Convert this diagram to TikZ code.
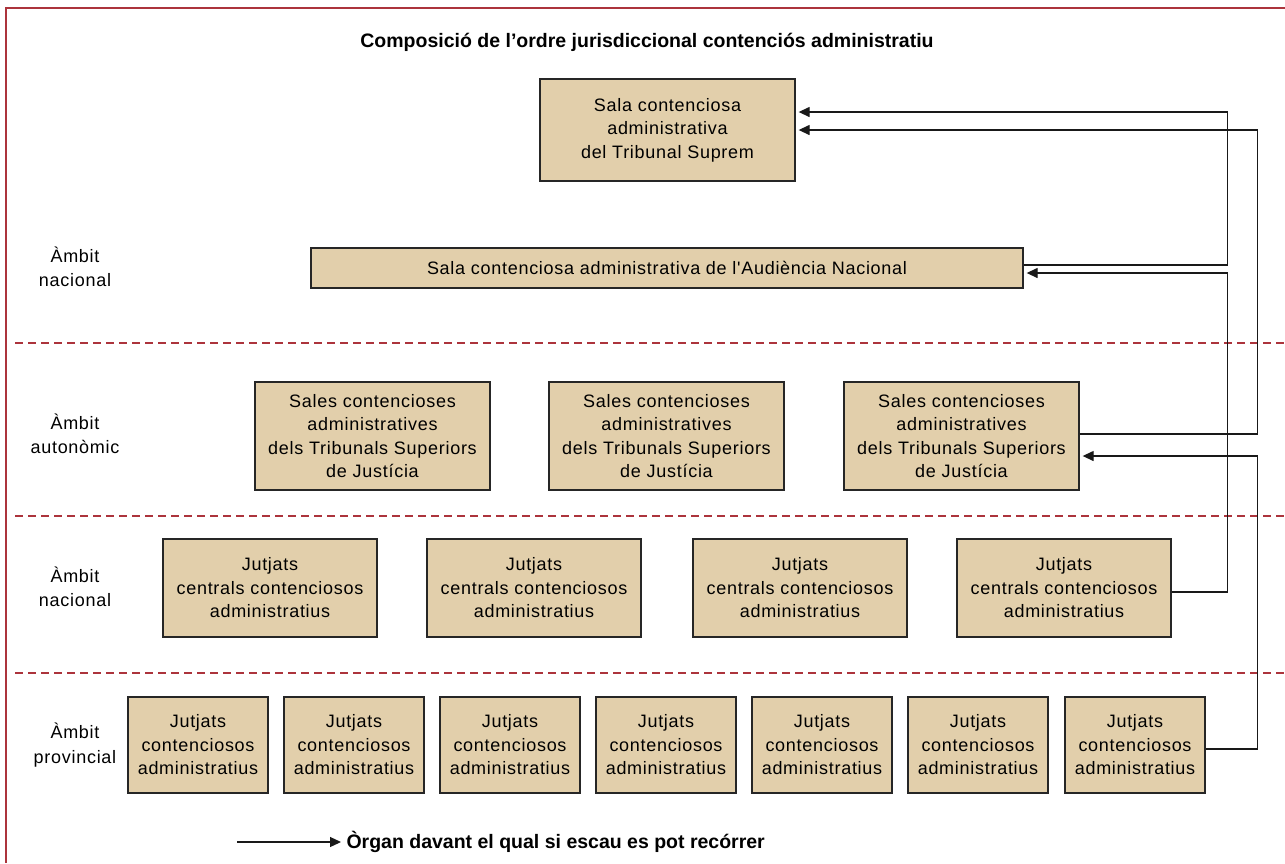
\documentclass[tikz,border=0pt]{standalone}
\usepackage{fontspec}
\setmainfont{Liberation Sans}
\newfontfamily\boxfont[LetterSpace=4]{Liberation Sans}
\usetikzlibrary{arrows.meta}
\definecolor{boxfill}{RGB}{226,207,171}
\definecolor{framered}{RGB}{172,52,60}
\tikzset{
  box/.style={draw=black!85, line width=1.3pt, fill=boxfill, align=center,
    font=\boxfont\fontsize{18}{23.5}\selectfont, inner sep=0pt},
  lbl/.style={align=center, font=\boxfont\fontsize{18}{24.5}\selectfont},
  link/.style={draw=black!90, line width=1.3pt, -{Triangle[length=11pt,width=10pt]}, shorten >=3pt},
  sep/.style={draw=framered, line width=1.3pt, dash pattern=on 8pt off 5pt},
  ttl/.style={font=\bfseries\fontsize{19.5}{22}\selectfont}
}
\begin{document}
\begin{tikzpicture}[x=1pt,y=-1pt]
\useasboundingbox (0,0) rectangle (1285,863);
\fill[white] (0,0) rectangle (1285,863);
% frame
\draw[framered, line width=2pt] (6,863) -- (6,8) -- (1285,8);
% title
\node[ttl] (title) at (647,42) {Composició de l’ordre jurisdiccional contenciós administratiu};
% separators
\draw[sep] (15,343) -- (1285,343);
\draw[sep] (15,516) -- (1285,516);
\draw[sep] (15,673) -- (1285,673);
% level labels
\node[lbl] (l1) at (75,267) {Àmbit\\nacional};
\node[lbl] (l2) at (75,434) {Àmbit\\autonòmic};
\node[lbl] (l3) at (75,587) {Àmbit\\nacional};
\node[lbl] (l4) at (75,745) {Àmbit\\provincial};
% boxes
\node[box, minimum width=255pt, minimum height=102pt] (sup) at (667.5,130) {Sala contenciosa\\administrativa\\del Tribunal Suprem};
\node[box, minimum width=712pt, minimum height=40pt] (aud) at (667,268) {Sala contenciosa administrativa de l'Audiència Nacional};
\foreach \i/\x in {1/372.5,2/666.5,3/961.5}
  \node[box, minimum width=235pt, minimum height=108pt] (tsj\i) at (\x,436) {Sales contencioses\\administratives\\dels Tribunals Superiors\\de Justícia};
\foreach \i/\x in {1/270,2/534,3/800,4/1064}
  \node[box, minimum width=214pt, minimum height=98pt] (cen\i) at (\x,588) {Jutjats\\centrals contenciosos\\administratius};
\foreach \i/\x in {1/198,2/354,3/510,4/666,5/822,6/978,7/1135}
  \node[box, minimum width=140pt, minimum height=96pt] (prov\i) at (\x,745) {Jutjats\\contenciosos\\administratius};
% connectors
\draw[link] ([yshift=3pt]aud.east) -- ++(204,0) |- ([yshift=18pt]sup.east);
\draw[link] ([yshift=2pt]tsj3.east) -- ++(178,0) |- (sup.east);
\draw[link] ([yshift=-4pt]cen4.east) -- ++(56,0) |- ([yshift=-5pt]aud.east);
\draw[link] ([yshift=-4pt]prov7.east) -- ++(52,0) |- ([yshift=-20pt]tsj3.east);
% legend
\coordinate (lgs) at (237,842);
\node[ttl, anchor=west] (lgt) at (343,842) {Òrgan davant el qual si escau es pot recórrer};
\draw[link, shorten >=2pt] (lgs) -- (lgt.west);
\end{tikzpicture}
\end{document}
